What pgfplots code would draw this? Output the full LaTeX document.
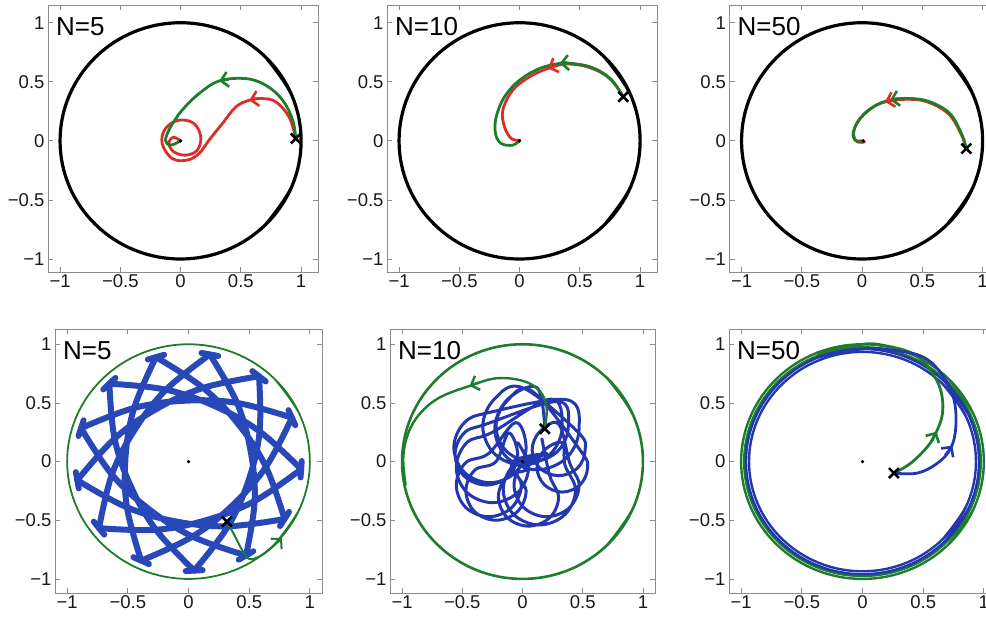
\documentclass[border=0pt]{standalone}
\usepackage{fontspec}
\setmainfont{Liberation Sans}
\usepackage{pgfplots}
\usepackage{pgfplotstable}
\pgfplotsset{compat=1.18}
\usetikzlibrary{arrows.meta}
\definecolor{cred}{RGB}{220,45,40}
\definecolor{cgreen}{RGB}{30,125,45}
\definecolor{cblue}{RGB}{40,72,185}
\definecolor{cblueb}{RGB}{35,55,175}
\definecolor{boxgray}{RGB}{140,140,140}

\pgfplotstableread{
x y
0.707 -0.707
0.924 -0.383
1 0
0.924 0.383
0.707 0.707
0.383 0.924
0 1
-0.383 0.924
-0.707 0.707
-0.924 0.383
-1 0
-0.924 -0.383
-0.707 -0.707
-0.383 -0.924
0 -1
0.383 -0.924
0.707 -0.707
0.924 -0.383
1 0
0.924 0.383
0.707 0.707
}\circA
\pgfplotstableread{
x y
0.689 -0.689
0.901 -0.373
0.975 0
0.901 0.373
0.689 0.689
0.373 0.901
0 0.975
-0.373 0.901
-0.689 0.689
-0.901 0.373
-0.975 0
-0.901 -0.373
-0.689 -0.689
-0.373 -0.901
0 -0.975
0.373 -0.901
0.689 -0.689
0.901 -0.373
0.975 0
0.901 0.373
0.689 0.689
}\circB
\pgfplotstableread{
x y
0.679 -0.679
0.887 -0.368
0.96 0
0.887 0.368
0.679 0.679
0.368 0.887
0 0.96
-0.368 0.887
-0.679 0.679
-0.887 0.368
-0.96 0
-0.887 -0.368
-0.679 -0.679
-0.368 -0.887
0 -0.96
0.368 -0.887
0.679 -0.679
0.887 -0.368
0.96 0
0.887 0.368
0.679 0.679
}\circC
\pgfplotstableread{
x y
0.661 -0.661
0.864 -0.358
0.935 0
0.864 0.358
0.661 0.661
0.358 0.864
0 0.935
-0.358 0.864
-0.661 0.661
-0.864 0.358
-0.935 0
-0.864 -0.358
-0.661 -0.661
-0.358 -0.864
0 -0.935
0.358 -0.864
0.661 -0.661
0.864 -0.358
0.935 0
0.864 0.358
0.661 0.661
}\circD
% N=5 (bottom) blue arcs between outer turning points
\pgfplotstableread{
x y
0.928 -0.065
0.586 0.257
0.218 0.472
-0.185 0.613
-0.652 0.664
nan nan
0.852 0.374
0.400 0.500
-0.026 0.519
-0.448 0.457
-0.885 0.285
nan nan
0.581 0.727
0.121 0.628
-0.265 0.448
-0.609 0.196
-0.916 -0.159
nan nan
0.176 0.913
-0.185 0.613
-0.442 0.273
-0.631 -0.110
-0.737 -0.567
nan nan
-0.268 0.890
-0.448 0.457
-0.519 0.036
-0.507 -0.390
-0.390 -0.844
nan nan
-0.652 0.664
-0.609 0.196
-0.476 -0.209
-0.268 -0.581
0.047 -0.929
nan nan
-0.885 0.285
-0.631 -0.110
-0.325 -0.406
0.033 -0.639
0.474 -0.800
nan nan
-0.916 -0.159
-0.507 -0.390
-0.099 -0.511
0.326 -0.551
0.791 -0.489
nan nan
-0.737 -0.567
-0.268 -0.581
0.150 -0.498
0.545 -0.336
0.928 -0.065
nan nan
-0.390 -0.844
0.033 -0.639
0.364 -0.371
0.638 -0.045
0.852 0.374
nan nan
0.047 -0.929
0.326 -0.551
0.495 -0.160
0.586 0.257
0.581 0.727
nan nan
0.474 -0.800
0.545 -0.336
0.512 0.089
0.400 0.500
0.176 0.913
nan nan
0.791 -0.489
0.638 -0.045
0.412 0.317
0.121 0.628
-0.268 0.890
}\arcsB
\pgfplotstableread{
x y
0.923 -0.135
0.933 0.005
nan nan
0.880 0.310
0.824 0.438
nan nan
0.636 0.683
0.526 0.771
nan nan
0.245 0.900
0.107 0.926
nan nan
-0.201 0.910
-0.335 0.870
nan nan
-0.602 0.713
-0.702 0.615
nan nan
-0.864 0.352
-0.906 0.218
nan nan
-0.928 -0.090
-0.904 -0.228
nan nan
-0.780 -0.512
-0.694 -0.622
nan nan
-0.454 -0.815
-0.326 -0.873
nan nan
-0.023 -0.933
0.117 -0.925
nan nan
0.414 -0.836
0.534 -0.764
nan nan
0.754 -0.549
0.828 -0.429
}\barsB

\pgfplotsset{
 pan/.style={scale only axis, anchor=north west,
   xtick={-1,-0.5,0,0.5,1}, ytick={-1,-0.5,0,0.5,1},
   xticklabels={−1,−0.5,0,0.5,1}, yticklabels={−1,−0.5,0,0.5,1},
   tick align=inside, major tick length=5pt,
   axis line style={boxgray, line width=0.8pt},
   tick style={boxgray, line width=0.8pt},
   ticklabel style={font=\fontsize{18.5}{20}\selectfont, text=black!90},
   xticklabel style={yshift=1pt},
   every axis plot/.append style={tension=0.62},
   /pgf/number format/assume math mode=true},
 toprow/.style={pan, width=270pt, height=267pt, xmin=-1.1, xmax=1.14, ymin=-1.11, ymax=1.15},
 botrow/.style={pan, width=267pt, height=264pt, xmin=-1.1, xmax=1.1, ymin=-1.12, ymax=1.13},
 traj/.style={line width=2.8pt, smooth, line cap=round, line join=round},
 arr/.style={line width=2.6pt, -{Straight Barb[length=7pt,width=15pt]}},
 xm/.style={only marks, mark=x, mark size=7pt, black, mark options={line width=2.6pt}},
 dot/.style={only marks, mark=*, mark size=1.5pt, black},
}
\newcommand{\Nlab}[1]{\node[anchor=north west, inner sep=0pt, font=\fontsize{26}{28}\selectfont] at ([xshift=8pt,yshift=-12pt]rel axis cs:0,1) {#1};}

\begin{document}
\begin{tikzpicture}
\useasboundingbox (0,0) rectangle (986pt,-619pt);

% ---------- Panel 1 ----------
\begin{axis}[toprow, at={(48pt,-5pt)}]
\addplot[black, line width=3.2pt, smooth] table {\circA};
\addplot[cred, traj] coordinates {(0.955,0.02) (0.90,0.203) (0.79,0.33) (0.68,0.358) (0.57,0.344) (0.458,0.287) (0.347,0.147) (0.236,0.006) (0.153,-0.107) (0.055,-0.163) (-0.07,-0.149) (-0.153,-0.022) (-0.125,0.105) (-0.014,0.175) (0.111,0.147) (0.167,0.034) (0.138,-0.079) (0.042,-0.121) (-0.056,-0.093) (-0.097,-0.022) (-0.06,0.03) (0,0)};
\addplot[cgreen, traj] coordinates {(0.955,0.02) (0.93,0.175) (0.847,0.344) (0.708,0.47) (0.54,0.527) (0.32,0.507) (0.153,0.40) (0.013,0.26) (-0.083,0.118) (-0.125,0.006) (-0.083,-0.036) (0,0)};
\addplot[cgreen, arr] coordinates {(0.40,0.522) (0.32,0.507)};
\addplot[cred, arr] coordinates {(0.64,0.358) (0.57,0.344)};
\addplot[xm] coordinates {(0.955,0.02)};
\addplot[dot] coordinates {(0,0)};
\Nlab{N=5}
\end{axis}

% ---------- Panel 2 ----------
\begin{axis}[toprow, at={(387pt,-5pt)}]
\addplot[black, line width=3.2pt, smooth] table {\circA};
\addplot[cred, traj] coordinates {(0.86,0.373) (0.75,0.525) (0.583,0.62) (0.39,0.65) (0.236,0.613) (0.083,0.542) (-0.056,0.43) (-0.139,0.26) (-0.125,0.119) (-0.069,0.02) (0,0.006)};
\addplot[cgreen, traj] coordinates {(0.86,0.373) (0.75,0.53) (0.583,0.627) (0.39,0.66) (0.333,0.656) (0.167,0.613) (0,0.514) (-0.125,0.373) (-0.194,0.203) (-0.2,0.063) (-0.153,-0.022) (-0.056,-0.036) (0,0.006)};
\addplot[cred, arr] coordinates {(0.30,0.64) (0.236,0.613)};
\addplot[cgreen, arr] coordinates {(0.40,0.662) (0.333,0.656)};
\addplot[xm] coordinates {(0.86,0.373)};
\addplot[dot] coordinates {(0,0)};
\Nlab{N=10}
\end{axis}

% ---------- Panel 3 ----------
\begin{axis}[toprow, at={(729.5pt,-5pt)}]
\addplot[black, line width=3.2pt, smooth] table {\circA};
\addplot[cred, traj] coordinates {(0.865,-0.065) (0.82,0.06) (0.72,0.225) (0.555,0.325) (0.39,0.352) (0.19,0.33) (0.07,0.27) (-0.03,0.17) (-0.07,0.07) (-0.045,-0.005) (0.02,-0.01)};
\addplot[cgreen, traj] coordinates {(0.865,-0.065) (0.824,0.063) (0.727,0.232) (0.562,0.331) (0.397,0.359) (0.231,0.345) (0.093,0.288) (-0.017,0.19) (-0.072,0.076) (-0.058,0.006) (0.01,0)};
\addplot[cgreen, arr] coordinates {(0.30,0.36) (0.231,0.345)};
\addplot[cred, arr] coordinates {(0.26,0.35) (0.19,0.33)};
\addplot[xm] coordinates {(0.865,-0.065)};
\addplot[dot] coordinates {(0.01,0)};
\Nlab{N=50}
\end{axis}

% ---------- Panel 4 ----------
\begin{axis}[botrow, at={(55pt,-329pt)}]
\addplot[cgreen, line width=1.8pt, smooth] table {\circA};
\addplot[cblue, line width=6pt, smooth, unbounded coords=jump, line cap=round, line join=round] table {\arcsB};
\addplot[cblue, line width=6pt, unbounded coords=jump, line cap=round] table {\barsB};
\addplot[cgreen, line width=2pt, smooth, -{Straight Barb[length=7pt,width=15pt]}] coordinates {(0.316,-0.512) (0.38,-0.63) (0.44,-0.75) (0.5,-0.83) (0.6,-0.8) (0.7,-0.72) (0.77,-0.65)};
\addplot[xm] coordinates {(0.316,-0.512)};
\addplot[dot] coordinates {(0,0)};
\Nlab{N=5}
\end{axis}

% ---------- Panel 5 ----------
\begin{axis}[botrow, width=265pt, at={(390pt,-329pt)}]
\addplot[cgreen, line width=2.6pt, smooth] table {\circA};
\addplot[cblueb, line width=3pt, smooth, line join=round] coordinates {
(0.185,0.28)
(0.12,0.63) (-0.127,0.527) (-0.23,0.28) (-0.127,0.033) (0.12,-0.07) (0.367,0.033) (0.47,0.28) (0.367,0.527)
(-0.27,0.42) (-0.482,0.332) (-0.57,0.12) (-0.482,-0.092) (-0.27,-0.18) (-0.058,-0.092) (0.03,0.12) (-0.058,0.332)
(-0.28,0.07) (-0.471,-0.009) (-0.55,-0.2) (-0.471,-0.391) (-0.28,-0.47) (-0.089,-0.391) (-0.01,-0.2) (-0.089,-0.009)
(0.14,0.06) (-0.072,-0.028) (-0.16,-0.24) (-0.072,-0.452) (0.14,-0.54) (0.352,-0.452) (0.44,-0.24) (0.352,-0.028)
(0.33,0.16) (0.182,0.098) (0.12,-0.05) (0.182,-0.198) (0.33,-0.26) (0.478,-0.198) (0.54,-0.05) (0.478,0.098)
(0.08,0.6) (-0.132,0.512) (-0.22,0.3) (-0.132,0.088) (0.08,0) (0.292,0.088) (0.38,0.3) (0.292,0.512)
(-0.3,0.32) (-0.484,0.244) (-0.56,0.06) (-0.484,-0.124) (-0.3,-0.2) (-0.116,-0.124) (-0.04,0.06) (-0.116,0.244)
(-0.22,0) (-0.397,-0.073) (-0.47,-0.25) (-0.397,-0.427) (-0.22,-0.5) (-0.043,-0.427) (0.03,-0.25) (-0.043,-0.073)
(0.2,0.07) (0.009,-0.009) (-0.07,-0.2) (0.009,-0.391) (0.2,-0.47) (0.391,-0.391) (0.47,-0.2) (0.391,-0.009)
(0.3,0.32) (0.144,0.256) (0.08,0.1) (0.144,-0.056) (0.3,-0.12) (0.456,-0.056) (0.52,0.1) (0.456,0.256)
(0,0.63) (-0.233,0.533) (-0.33,0.3) (-0.233,0.067) (0,-0.03) (0.233,0.067) (0.33,0.3) (0.233,0.533)
(-0.25,0.25) (-0.462,0.162) (-0.55,-0.05) (-0.462,-0.262) (-0.25,-0.35) (-0.038,-0.262) (0.05,-0.05) (-0.038,0.162)
(0.05,-0.05) (-0.127,-0.123) (-0.2,-0.3) (-0.127,-0.477) (0.05,-0.55) (0.227,-0.477) (0.3,-0.3) (0.227,-0.123)
(0.16,0.2)};
\addplot[cgreen, line width=2.4pt, smooth] coordinates {(0.185,0.28) (0.2,0.46) (0.144,0.6) (0.005,0.687) (-0.216,0.71) (-0.438,0.645) (-0.688,0.546) (-0.853,0.407) (-0.95,0.238) (-0.99,0.03) (-0.97,-0.2)};
\addplot[cgreen, line width=2.4pt, -{Straight Barb[length=7pt,width=15pt]}] coordinates {(-0.37,0.672) (-0.44,0.645)};
\addplot[xm] coordinates {(0.185,0.28)};
\addplot[dot] coordinates {(0,0)};
\Nlab{N=10}
\end{axis}

% ---------- Panel 6 ----------
\begin{axis}[botrow, at={(729pt,-329pt)}]
\addplot[cgreen, line width=2.4pt, smooth] table {\circA};
\addplot[cgreen, line width=2.4pt, smooth] table {\circB};
\addplot[cblueb, line width=2.4pt, smooth] table {\circC};
\addplot[cblueb, line width=2.4pt, smooth] table {\circD};
\addplot[cgreen, traj] coordinates {(0.259,-0.098) (0.397,-0.014) (0.535,0.127) (0.603,0.24) (0.659,0.409) (0.645,0.606) (0.562,0.774) (0.424,0.915) (0.2,0.985) (0,1.0) (-0.383,0.924)};
\addplot[cblueb, traj] coordinates {(0.259,-0.098) (0.452,-0.098) (0.617,-0.014) (0.727,0.113) (0.769,0.296) (0.755,0.521) (0.672,0.718) (0.507,0.887) (0.25,0.95) (0,0.96) (-0.37,0.89)};
\addplot[cgreen, arr] coordinates {(0.565,0.17) (0.61,0.255)};
\addplot[cblueb, arr] coordinates {(0.68,0.05) (0.74,0.135)};
\addplot[xm] coordinates {(0.259,-0.098)};
\addplot[dot] coordinates {(0,0)};
\Nlab{N=50}
\end{axis}
\end{tikzpicture}
\end{document}
